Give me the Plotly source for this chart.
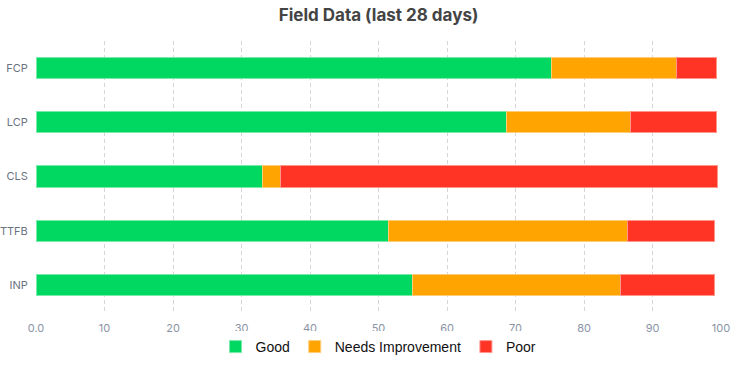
import plotly.graph_objects as go

categories = ["FCP", "LCP", "CLS", "TTFB", "INP"]
good = [75.3, 68.7, 33.1, 51.5, 55.0]
needs_improvement = [18.2, 18.1, 2.6, 34.8, 30.3]
poor = [5.9, 12.5, 63.8, 12.8, 13.8]
x_ticks = [0, 10, 20, 30, 40, 50, 60, 70, 80, 90, 100]
x_tick_labels = ["0.0", "10", "20", "30", "40", "50", "60", "70", "80", "90", "100"]

series = [
    ("Good", good, "#00d862", "rgba(120,235,170,1)"),
    ("Needs Improvement", needs_improvement, "#ffa400", "rgba(255,205,120,1)"),
    ("Poor", poor, "#ff3425", "rgba(255,150,140,1)"),
]

W, H = 738, 365

fig = go.Figure()
for name, vals, color, line in series:
    fig.add_trace(go.Bar(
        y=categories, x=vals, name=name, orientation="h",
        marker=dict(color=color, line=dict(color=line, width=1)),
    ))

fig.update_layout(
    barmode="stack",
    bargap=0.61,
    width=W, height=H,
    margin=dict(l=35.5, r=16.5, t=41, b=53),
    paper_bgcolor="white", plot_bgcolor="white",
    title=dict(text="<b>Field Data (last 28 days)</b>", x=0.5, xanchor="center",
               xref="paper", y=1 - 15 / H, yanchor="middle",
               font=dict(family="Inter", size=17, color="#444444")),
    legend=dict(orientation="h", x=0.5, xanchor="center",
                yref="container", y=18 / H, yanchor="middle",
                font=dict(family="Liberation Sans", size=14, color="#111111"),
                itemwidth=30, traceorder="normal"),
    showlegend=True,
)
fig.update_xaxes(range=[0, 100], tickvals=x_ticks, ticktext=x_tick_labels,
                 showgrid=True, gridcolor="#d6d6d6", griddash="4px,3px", gridwidth=1,
                 zeroline=False, showline=False, automargin=False,
                 ticks="outside", ticklen=6, tickcolor="rgba(0,0,0,0)",
                 tickfont=dict(family="Inter", size=11, color="#8a93a5"))
fig.update_yaxes(autorange="reversed", showgrid=False, zeroline=False, showline=False,
                 automargin=False,
                 ticks="outside", ticklen=5, tickcolor="rgba(0,0,0,0)",
                 tickfont=dict(family="Inter", size=11, color="#6b7280"))

# remove the browser's default 8px body margin so the figure fills the window
fig.write_html("out.html", config={"displayModeBar": False},
               post_script="document.body.style.margin='0';")
